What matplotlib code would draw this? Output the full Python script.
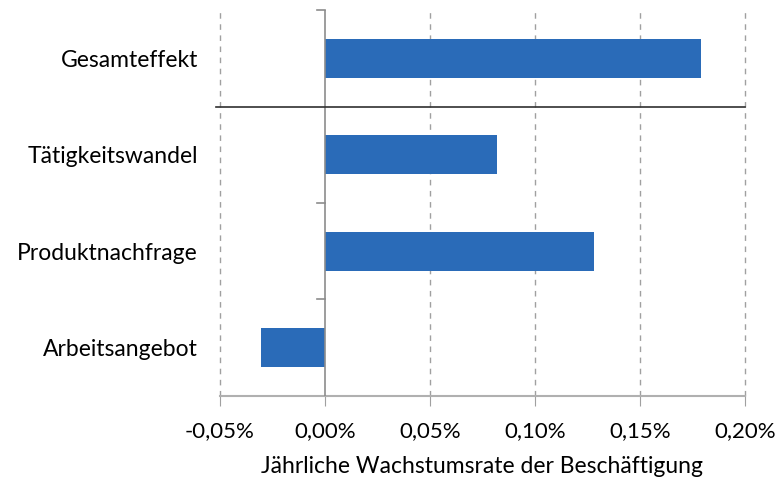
import matplotlib
matplotlib.use("Agg")
import matplotlib.pyplot as plt
from matplotlib.ticker import FuncFormatter

# categories top to bottom
categories = ["Gesamteffekt", "Tätigkeitswandel", "Produktnachfrage", "Arbeitsangebot"]
values = [0.179, 0.082, 0.128, -0.0306]  # percent per year
xticks = [-0.05, 0.0, 0.05, 0.10, 0.15, 0.20]

plt.rcParams['font.family'] = ['Lato', 'DejaVu Sans']

fig = plt.figure(figsize=(7.84, 4.79), dpi=100)
ax = fig.add_axes([0.2806, 0.1733, 0.6694, 0.8058])

pos = list(range(len(categories)))[::-1]
ax.barh(pos, values, height=0.4, color='#2A6BB8', zorder=3)

ax.set_xlim(-0.05, 0.20)
ax.set_ylim(-0.5, 3.5)
ax.set_xticks(xticks)
ax.xaxis.set_major_formatter(FuncFormatter(lambda v, p: f"{v:.2f}%".replace(".", ",")))

ax.set_yticks(pos)
ax.set_yticklabels(categories)
ax.tick_params(axis='y', length=0, pad=16, labelsize=16.5)
ax.tick_params(axis='x', length=7, color='#A0A0A0', labelsize=16, pad=11)

# dashed grid
for x in xticks:
    if x != 0:
        ax.axvline(x, color='#A0A0A0', linestyle=(0, (4, 4)), linewidth=1, zorder=1, clip_on=False)

# y axis at zero with ticks at the category boundaries
ax.axvline(0, color='#8C8C8C', linewidth=1.2, zorder=4)
for b in [3.5, 1.5, 0.5]:
    ax.plot([-0.0038, 0], [b, b], color='#8C8C8C', linewidth=1.2, clip_on=False, zorder=4)

# separator between total and components
ax.plot([-0.052, 0.2], [2.5, 2.5], color='#303030', linewidth=1.2, clip_on=False, zorder=5)

for s in ['top', 'right', 'left']:
    ax.spines[s].set_visible(False)
ax.spines['bottom'].set_color('#B0B0B0')
ax.spines['bottom'].set_linewidth(1.5)

ax.set_xlabel("Jährliche Wachstumsrate der Beschäftigung", fontsize=16.5, labelpad=11)

fig.savefig("out.png", dpi=100)
